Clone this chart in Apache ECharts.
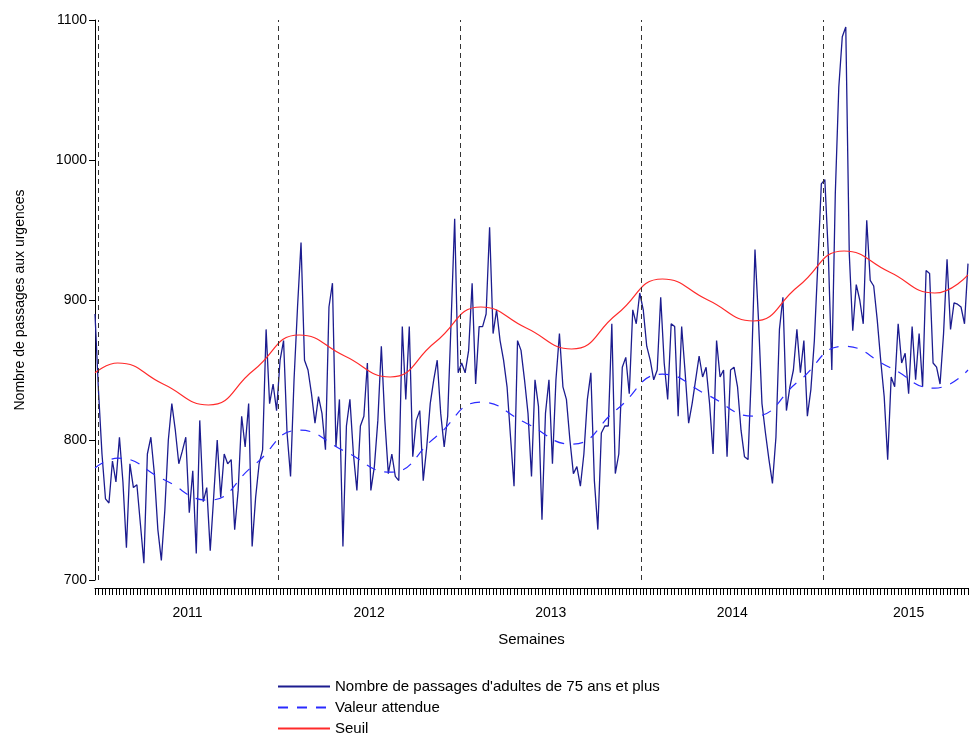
<!DOCTYPE html>
<html>
<head>
<meta charset="utf-8">
<script src="https://cdn.jsdelivr.net/npm/echarts@6/dist/echarts.min.js"></script>
<style>html,body{margin:0;padding:0;background:#fff}#c{width:969px;height:735px}</style>
</head>
<body>
<div id="c"></div>
<script>
// passages hebdomadaires (semaine 0 = fin 2010)
const passages = [
  890,835,790,758,755,785,770,802,770,723,783,766,768,740,712,790,802,776,736,714,
  750,800,826,807,783,792,802,748,778,719,814,756,766,721,760,800,759,790,783,786,
  736,764,817,795,826,724,759,783,793,879,826,840,
  821,857,871,805,774,843,895,941,857,850,833,812,831,819,793,895,912,795,829,724,
  810,829,790,764,810,817,855,764,781,814,867,814,776,790,774,771,881,829,881,788,
  814,821,771,795,826,843,857,819,795,817,886,958,
  848,855,848,864,912,840,881,881,890,952,876,893,871,857,838,802,767,871,864,843,
  819,774,843,824,743,819,843,783,843,876,838,829,800,776,781,767,790,829,848,771,
  736,805,810,810,883,776,790,852,859,833,893,883,905,893,
  867,857,843,850,902,855,829,883,881,817,881,848,812,826,843,860,845,852,826,790,
  871,845,850,788,850,852,838,807,788,786,850,936,886,826,805,786,769,802,879,902,
  821,838,850,879,848,871,817,836,871,926,
  983,986,933,850,976,1052,1088,1095,933,878,911,900,883,957,914,910,886,857,831,786,
  845,838,883,855,862,833,881,843,876,838,921,919,855,852,840,876,929,879,898,897,
  895,883,926
];
const modelWeeks = [0,6.5,19.5,32.5,45.5,58.5,71.5,84.5,97.5,110.5,123.5,136.5,149.5,162.5,175.5,188.5,201.5,214.5,227.5,240.5,250];
const attendu = [780,787,772,757,782,807,792,777,802,827,812,797,822,847,832,817,842,867,852,837,850];
const seuil = [848,855,840,825,850,875,860,845,870,895,880,865,890,915,900,885,910,935,920,905,918];
const yearBreaks = [0.8,52.5,104.5,156.5,208.5];
const years = ['2011','2012','2013','2014','2015'];
const yearCenters = [26.5,78.5,130.5,182.5,233];
const yTicks = [700,800,900,1000,1100];

const font = 'Liberation Sans';
const chart = echarts.init(document.getElementById('c'));
chart.setOption({
  animation: false,
  textStyle: { fontFamily: font },
  grid: { left: 95, right: 1, top: 20, bottom: 155 },
  legend: {
    orient: 'vertical', left: 272, top: 674, height: 70, itemGap: 6,
    itemWidth: 52, itemHeight: 14,
    itemStyle: { opacity: 0 },
    textStyle: { fontSize: 15, color: '#000', fontFamily: font },
    data: ["Nombre de passages d'adultes de 75 ans et plus", 'Valeur attendue', 'Seuil']
  },
  xAxis: [{
    type: 'value', min: 0, max: 250, interval: 1,
    name: 'Semaines', nameLocation: 'middle', nameGap: 44,
    nameTextStyle: { fontSize: 15, color: '#000' },
    offset: 8,
    axisLine: { lineStyle: { color: '#000' } },
    axisTick: { length: 7, lineStyle: { color: '#000' } },
    axisLabel: { show: false },
    splitLine: { show: false }
  }, {
    type: 'value', min: 0, max: 250, position: 'bottom', offset: 8,
    axisLine: { show: false }, axisTick: { show: false }, splitLine: { show: false },
    axisLabel: {
      customValues: yearCenters, margin: 18, fontSize: 14, color: '#000',
      formatter: v => years[yearCenters.indexOf(v)]
    }
  }],
  yAxis: {
    type: 'value', min: 700, max: 1100, interval: 100,
    name: 'Nombre de passages aux urgences', nameLocation: 'middle', nameGap: 68,
    nameTextStyle: { fontSize: 14, color: '#000' },
    axisLine: { show: true, lineStyle: { color: '#000' } },
    axisTick: { show: true, length: 6, lineStyle: { color: '#000' } },
    axisLabel: { fontSize: 14, color: '#000', formatter: v => yTicks.includes(v) ? v : '' },
    splitLine: { show: false }
  },
  series: [{
    name: "Nombre de passages d'adultes de 75 ans et plus",
    type: 'line', symbol: 'none',
    data: passages.map((v, i) => [i, v]),
    lineStyle: { color: '#1c1c8f', width: 1.3 },
    itemStyle: { color: '#1c1c8f' },
    markLine: {
      silent: true, symbol: 'none', label: { show: false },
      lineStyle: { color: '#333', type: [5, 4], width: 1 },
      data: yearBreaks.map(x => ({ xAxis: x }))
    }
  }, {
    name: 'Valeur attendue', type: 'line', symbol: 'none', smooth: 0.5,
    data: modelWeeks.map((w, i) => [w, attendu[i]]),
    lineStyle: { color: '#2a2aff', width: 1.2, type: [10, 9] },
    itemStyle: { color: '#2a2aff' }
  }, {
    name: 'Seuil', type: 'line', symbol: 'none', smooth: 0.5,
    data: modelWeeks.map((w, i) => [w, seuil[i]]),
    lineStyle: { color: '#ff2a2a', width: 1.2 },
    itemStyle: { color: '#ff2a2a' }
  }]
});
</script>
</body>
</html>
